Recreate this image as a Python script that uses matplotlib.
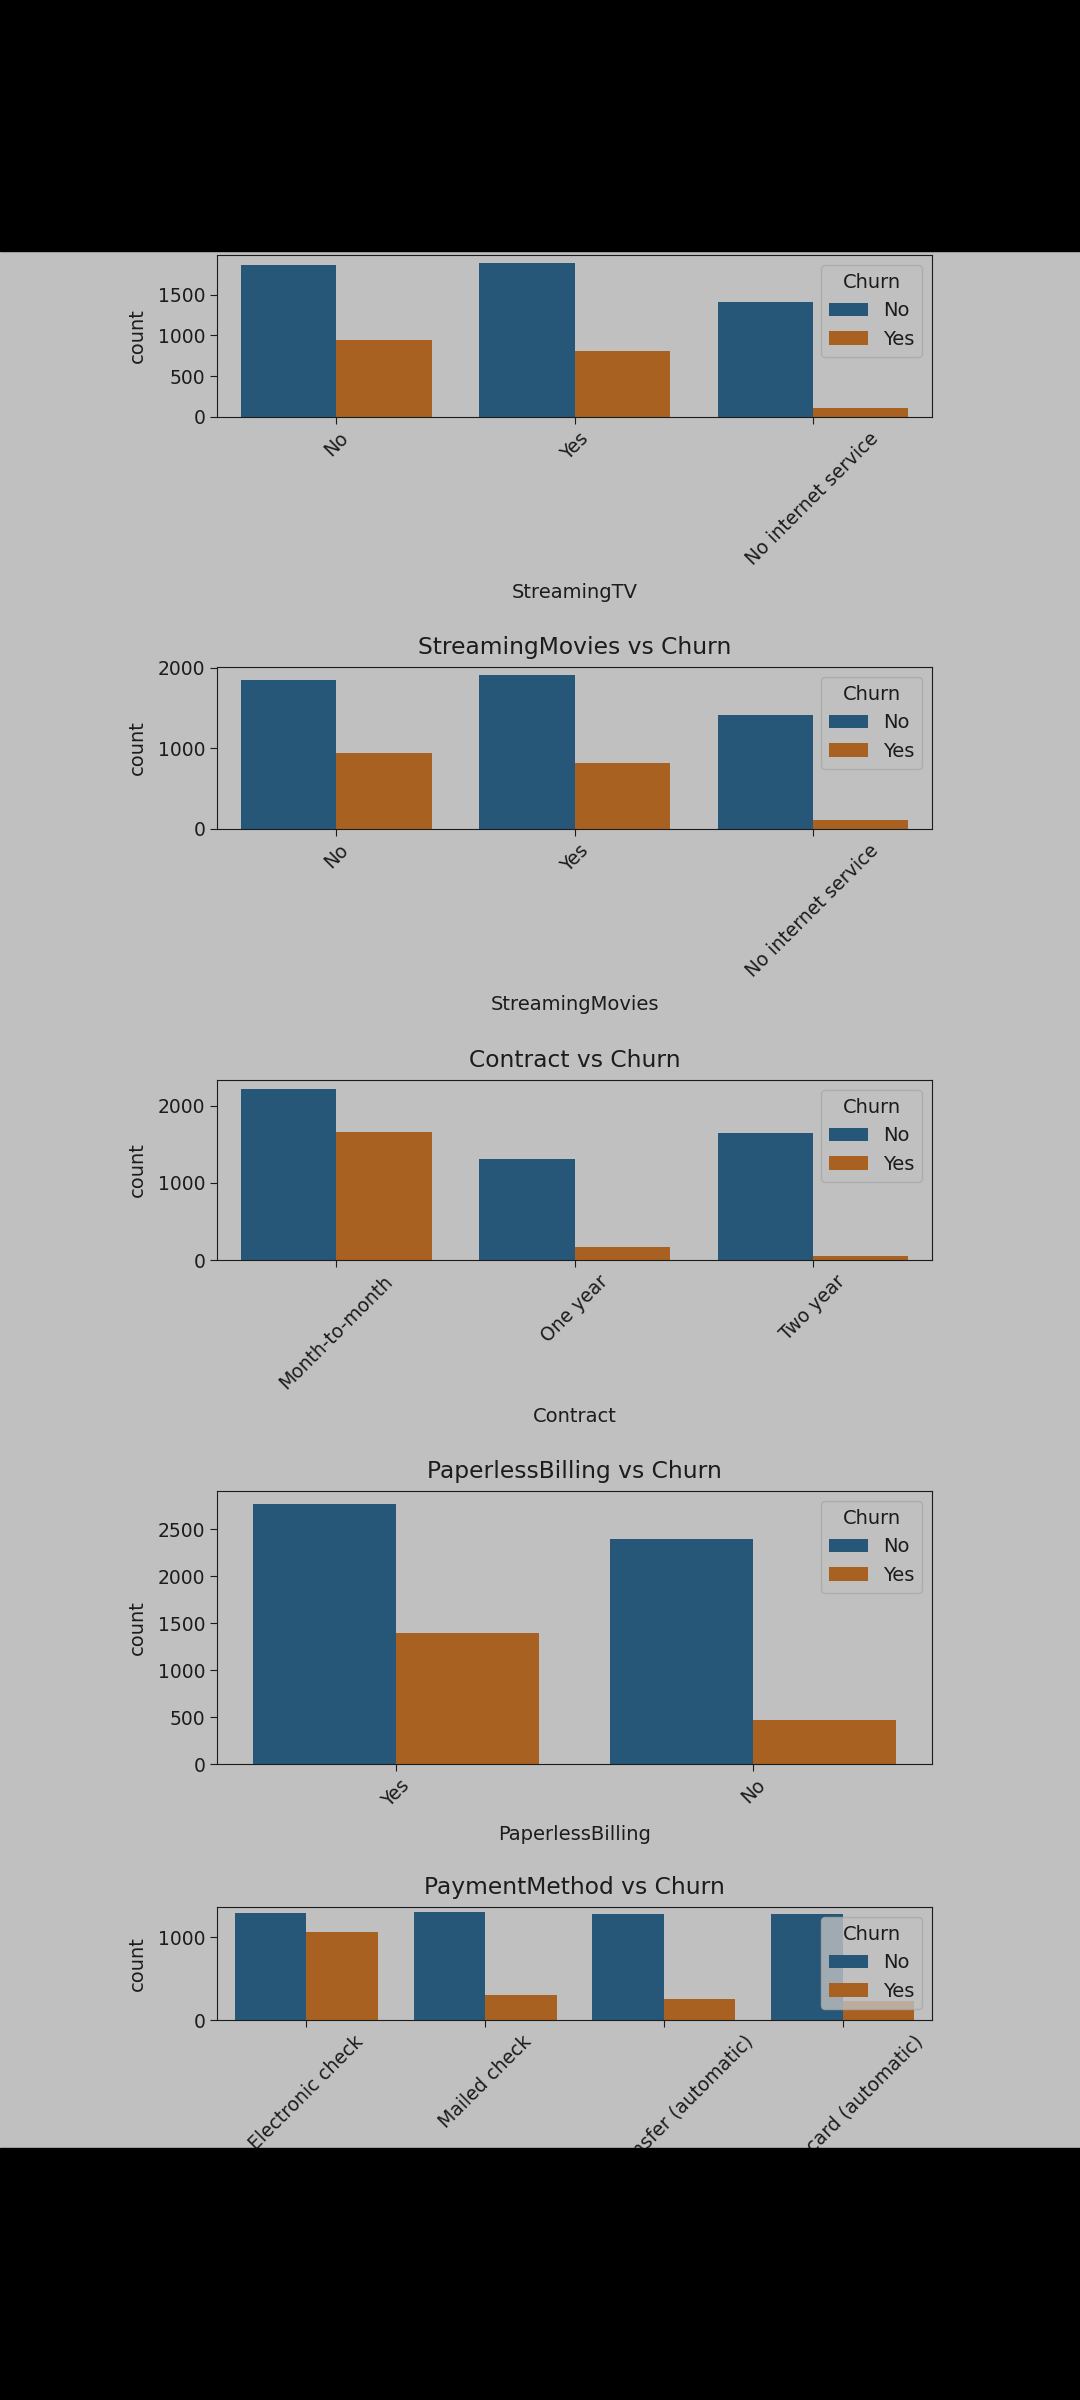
import matplotlib
matplotlib.use('Agg')
import matplotlib.pyplot as plt
from matplotlib.patches import Rectangle
import numpy as np

# ---- data ----
hue_levels = ['No', 'Yes']

streamingtv_cats = ['No', 'Yes', 'No internet service']
streamingtv_no = [1868, 1893, 1413]
streamingtv_yes = [942, 814, 113]

streamingmovies_cats = ['No', 'Yes', 'No internet service']
streamingmovies_no = [1847, 1914, 1413]
streamingmovies_yes = [938, 818, 113]

contract_cats = ['Month-to-month', 'One year', 'Two year']
contract_no = [2220, 1307, 1647]
contract_yes = [1655, 166, 48]

paperless_cats = ['Yes', 'No']
paperless_no = [2771, 2403]
paperless_yes = [1400, 469]

payment_cats = ['Electronic check', 'Mailed check', 'Bank transfer (automatic)',
                'Credit card (automatic)']
payment_no = [1294, 1304, 1286, 1290]
payment_yes = [1071, 308, 258, 232]

panels = [
    ('StreamingTV', streamingtv_cats, streamingtv_no, streamingtv_yes, [0, 500, 1000, 1500]),
    ('StreamingMovies', streamingmovies_cats, streamingmovies_no, streamingmovies_yes, [0, 1000, 2000]),
    ('Contract', contract_cats, contract_no, contract_yes, [0, 1000, 2000]),
    ('PaperlessBilling', paperless_cats, paperless_no, paperless_yes, [0, 500, 1000, 1500, 2000, 2500]),
    ('PaymentMethod', payment_cats, payment_no, payment_yes, [0, 1000]),
]

# ---- layout (pixels from top) ----
W, H = 1080, 2400
left_px, right_px = 217, 932
boxes = [(255, 417), (667, 829), (1080, 1260), (1491, 1764), (1907, 2020)]

BG = '#c0c0c0'
TXT = '#1c1c1c'
C_NO = '#265779'
C_YES = '#a96121'

plt.rcParams['font.family'] = ['DejaVu Sans']
plt.rcParams['text.color'] = TXT
plt.rcParams['axes.labelcolor'] = TXT
plt.rcParams['xtick.color'] = TXT
plt.rcParams['ytick.color'] = TXT

fig = plt.figure(figsize=(W / 100, H / 100), dpi=100, facecolor=BG)

for (name, cats, no_vals, yes_vals, yt), (top, bot) in zip(panels, boxes):
    ax = fig.add_axes([left_px / W, 1 - bot / H, (right_px - left_px) / W, (bot - top) / H])
    ax.set_facecolor(BG)
    x = np.arange(len(cats))
    ax.bar(x - 0.2, no_vals, width=0.4, color=C_NO, label='No')
    ax.bar(x + 0.2, yes_vals, width=0.4, color=C_YES, label='Yes')
    ax.set_xlim(-0.5, len(cats) - 0.5)
    ymax = max(max(no_vals), max(yes_vals))
    ax.set_ylim(0, ymax * 1.05)
    ax.set_yticks(yt)
    ax.set_xticks(x)
    ax.set_xticklabels(cats, rotation=45)
    ax.tick_params(labelsize=13.5, length=5)
    ax.set_xlabel(name, fontsize=14, labelpad=10)
    ax.set_ylabel('count', fontsize=14, labelpad=8)
    ax.set_title(f'{name} vs Churn', fontsize=16.8, pad=9.5)
    for s in ax.spines.values():
        s.set_color(TXT)
    ax.legend(title='Churn', loc='upper right', fontsize=14, title_fontsize=14,
              facecolor=BG, edgecolor='#a8a8a8', framealpha=0.8)

# screenshot black bars
fig.add_artist(Rectangle((0, 1 - 251 / H), 1, 251 / H, transform=fig.transFigure,
                         color='black', zorder=100))
fig.add_artist(Rectangle((0, 0), 1, (H - 2148) / H, transform=fig.transFigure,
                         color='black', zorder=100))

fig.savefig('out.png', dpi=100, facecolor=fig.get_facecolor())
